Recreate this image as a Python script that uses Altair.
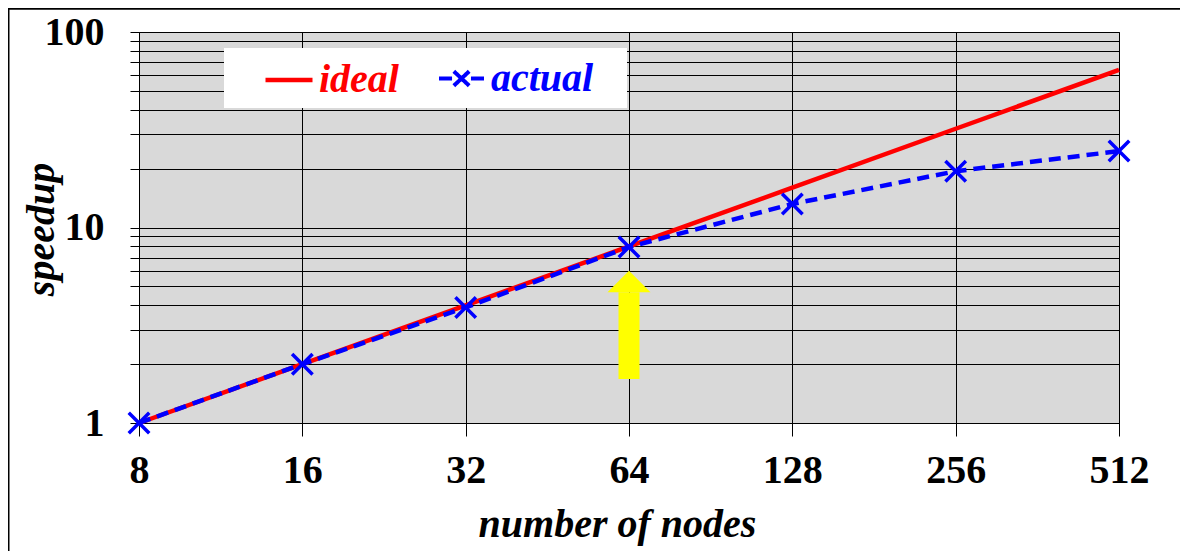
import altair as alt
import pandas as pd

# ---- data ----
nodes = [8, 16, 32, 64, 128, 256, 512]
ideal = [1, 2, 4, 8, 16, 32, 64]
actual = [1, 2.0, 3.9, 7.95, 13.2, 19.4, 24.6]
y_ticks = [1, 2, 3, 4, 5, 6, 7, 8, 9, 10, 20, 30, 40, 50, 60, 70, 80, 90, 100]
y_labelled = [1, 10, 100]
arrow_at = [64]
arrow_tail = [1.68]
arrow_head = [4.66]

W, H = 980, 391
FONT = "Liberation Serif"
RED = "#ff0000"
BLUE = "#0000ff"

df_ideal = pd.DataFrame({"nodes": nodes, "speedup": ideal, "series": ["ideal"] * len(nodes)})
df_actual = pd.DataFrame({"nodes": nodes, "speedup": actual, "series": ["actual"] * len(nodes)})
df_shaft = pd.DataFrame({"nodes": arrow_at, "speedup": arrow_tail, "speedup2": arrow_head})
df_head = pd.DataFrame({"nodes": arrow_at, "speedup": arrow_head})
one = pd.DataFrame({"k": [0]})

xs = alt.Scale(type="log", base=2, domain=[8, 512], nice=False)
ys = alt.Scale(type="log", base=10, domain=[1, 100], nice=False)

x_axis = alt.Axis(
    values=nodes, format="d", title="number of nodes",
    labelFont=FONT, labelFontSize=40, labelFontWeight="bold", labelColor="black",
    labelPadding=14, labelFlush=False, labelOverlap=False,
    tickSize=13, tickColor="black", tickWidth=1,
    domainColor="black", gridColor="black", gridOpacity=1, gridWidth=1,
    titleFont=FONT, titleFontSize=40, titleFontWeight="bold", titleFontStyle="italic",
    titleColor="black", titlePadding=14, titleX=478,
)
lab_test = " || ".join(f"datum.value == {v}" for v in y_labelled)
y_axis = alt.Axis(
    values=y_ticks, title="speedup",
    labelExpr=f"({lab_test}) ? datum.value : ''",
    labelFont=FONT, labelFontSize=40, labelFontWeight="bold", labelColor="black",
    labelPadding=26, labelFlush=False, labelOverlap=False,
    tickSize=9, tickColor="black", tickWidth=1,
    domainColor="black", gridColor="black", gridOpacity=1, gridWidth=1,
    titleFont=FONT, titleFontSize=40, titleFontWeight="bold", titleFontStyle="italic",
    titleColor="black", titleAngle=-90, titleAlign="center", titleBaseline="middle",
    titleX=-98, titleY=197,
)

X = alt.X("nodes:Q", scale=xs, axis=x_axis)
Y = alt.Y("speedup:Q", scale=ys, axis=y_axis)

ACT_SYM = "M-1,0H-0.42M0.42,0H1M-0.34,-0.32L0.34,0.32M-0.34,0.32L0.34,-0.32"
X_SYM = "M-1,-1L1,1M-1,1L1,-1"

frame_left = alt.Chart(one).mark_rule(color="black", strokeWidth=2).encode(
    x=alt.value(-130.5), y=alt.value(-23.5), y2=alt.value(H + 140))
frame_top = alt.Chart(one).mark_rule(color="black", strokeWidth=2).encode(
    x=alt.value(-131.5), x2=alt.value(W + 61), y=alt.value(-23.3))

legend_box = alt.Chart(one).mark_rect(color="white").encode(
    x=alt.value(85), x2=alt.value(488), y=alt.value(16), y2=alt.value(76))

ideal_line = alt.Chart(df_ideal).mark_line(strokeWidth=4.5).encode(
    x=X, y=Y,
    color=alt.Color("series:N", scale=alt.Scale(domain=["ideal"], range=[RED]),
                    legend=alt.Legend(title=None, orient="none", legendX=124, legendY=22,
                                      symbolType="stroke", symbolSize=2209,
                                      symbolStrokeWidth=4.5, symbolStrokeColor=RED,
                                      labelFont=FONT, labelFontSize=40, labelFontWeight="bold",
                                      labelFontStyle="italic", labelColor=RED,
                                      labelOffset=4, padding=0)),
)

actual_line = alt.Chart(df_actual).mark_line(strokeWidth=4.5, strokeDash=[12, 7], color=BLUE).encode(
    x=X, y=Y,
    opacity=alt.Opacity("series:N", scale=alt.Scale(domain=["actual"], range=[1]),
                        legend=alt.Legend(title=None, orient="none", legendX=298, legendY=22,
                                          symbolType=ACT_SYM, symbolSize=2025,
                                          symbolStrokeWidth=4, symbolStrokeColor=BLUE,
                                          symbolFillColor="transparent", symbolDash=[1, 0],
                                          labelFont=FONT, labelFontSize=40, labelFontWeight="bold",
                                          labelFontStyle="italic", labelColor=BLUE,
                                          labelOffset=5, padding=0)),
)

actual_pts = alt.Chart(df_actual).mark_point(
    shape=X_SYM, size=420, strokeWidth=3.5, color=BLUE, filled=False, opacity=1
).encode(x=X, y=Y)

shaft = alt.Chart(df_shaft).mark_rule(color="#ffff00", strokeWidth=21).encode(
    x=X, y=Y, y2="speedup2:Q")
head = alt.Chart(df_head).mark_point(
    shape="M-1,0L0,-1L1,0Z", size=1850, filled=True, color="#ffff00", opacity=1, strokeWidth=0
).encode(x=X, y=Y)

chart = alt.layer(
    frame_left, frame_top, shaft, head, legend_box, ideal_line, actual_line, actual_pts
).resolve_legend(color="independent", opacity="independent").properties(
    width=W, height=H,
    autosize=alt.AutoSizeParams(type="none"),
    padding={"left": 131, "top": 24, "right": 62, "bottom": 128},
).configure(
    background="white"
).configure_view(
    fill="#d9d9d9", stroke="#333333", strokeWidth=1
)

chart.save("out.html", embed_options={"renderer": "svg", "actions": False})
